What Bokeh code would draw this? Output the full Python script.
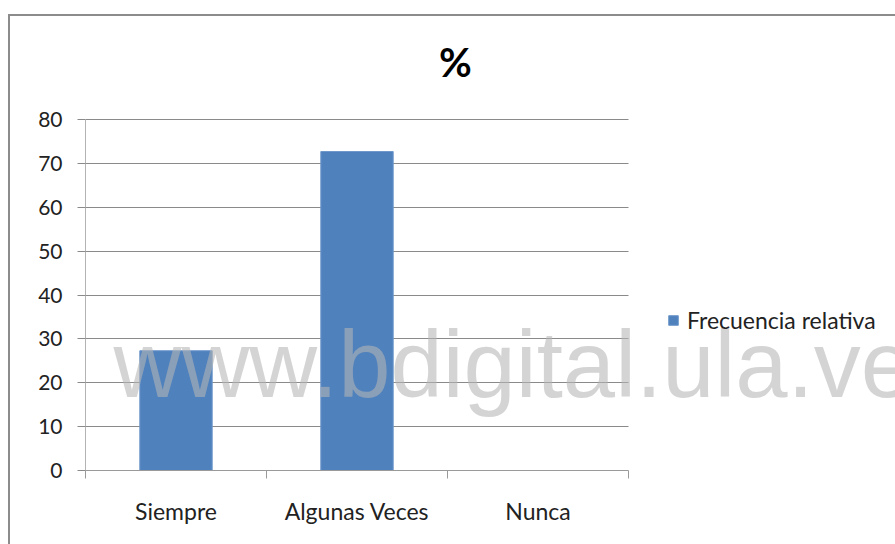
from bokeh.plotting import figure
from bokeh.models import (Range1d, FixedTicker, CustomJSTickFormatter, Legend, LegendItem,
                          Label, ColumnDataSource, InlineStyleSheet)
from bokeh.embed import file_html
from bokeh.resources import INLINE
import numpy as np

# data
categories = ["Siempre", "Algunas Veces", "Nunca"]
frecuencia_relativa = [27.3, 72.7, 0.0]
y_ticks = [0, 10, 20, 30, 40, 50, 60, 70, 80]
title_text = "%"
series_name = "Frecuencia relativa"
watermark = "www.bdigital.ula.ve"

n = len(categories)
y_max = 80
xs = np.arange(n) + 0.5
src = ColumnDataSource(dict(x=xs, top=frecuencia_relativa, cat=categories))

# frame spans the canvas to the right and top; category area occupies part of it
W, H = 895, 544
left_b, bottom_b = 85, 74
cat_px = 543.0          # pixel width of the category area
val_px = 351.0          # pixel height of 0..80
frame_w = W - left_b
frame_h = H - bottom_b
x_end = n * frame_w / cat_px
y_end = y_max * frame_h / val_px

p = figure(width=W, height=H, output_backend="svg", toolbar_location=None,
           x_range=Range1d(0, x_end), y_range=Range1d(0, y_end),
           min_border_left=left_b, min_border_right=0, min_border_top=0, min_border_bottom=bottom_b)
p.outline_line_color = None
p.background_fill_color = "white"
p.border_fill_color = "white"

bars = p.vbar(x="x", top="top", width=0.4, source=src, fill_color="#4f81bd",
              line_color="#6e98cb", line_width=1)

# y axis
p.yaxis.ticker = FixedTicker(ticks=y_ticks)
p.yaxis.bounds = (0, y_max)
p.yaxis.axis_line_color = "#b4b4b4"
p.yaxis.axis_line_width = 1
p.yaxis.major_tick_out = 8
p.yaxis.major_tick_in = 0
p.yaxis.major_tick_line_color = "#8a8a8a"
p.yaxis.minor_tick_line_color = None
p.yaxis.major_label_text_font = "Lato"
p.yaxis.major_label_text_font_size = "21px"
p.yaxis.major_label_text_color = "#222222"
p.yaxis.major_label_standoff = 15

p.ygrid.ticker = FixedTicker(ticks=y_ticks)
p.ygrid.cross_bounds = (0, n)
p.ygrid.grid_line_color = "#8a8a8a"
p.ygrid.grid_line_width = 1
p.xgrid.grid_line_color = None

# x axis: labels at centres, ticks at boundaries
p.xaxis.ticker = FixedTicker(ticks=list(xs), minor_ticks=list(range(n + 1)))
p.xaxis.bounds = (0, n)
p.xaxis.formatter = CustomJSTickFormatter(args=dict(cats=categories),
                                          code="const i = Math.floor(tick); return (i >= 0 && i < cats.length) ? cats[i] : '';")
p.xaxis.axis_line_color = "#9a9a9a"
p.xaxis.major_tick_out = 0
p.xaxis.major_tick_in = 0
p.xaxis.minor_tick_out = 8
p.xaxis.minor_tick_in = 0
p.xaxis.minor_tick_line_color = "#9a9a9a"
p.xaxis.major_label_text_font = "Lato"
p.xaxis.major_label_text_font_size = "23px"
p.xaxis.major_label_text_color = "#222222"
p.xaxis.major_label_standoff = 18

# legend
legend = Legend(items=[LegendItem(label=series_name, renderers=[bars])],
                location=(582, 136), orientation="vertical",
                glyph_width=12, glyph_height=12, label_standoff=8,
                padding=0, margin=0, spacing=0,
                border_line_color=None, background_fill_alpha=0,
                label_text_font="Lato", label_text_font_size="23px", label_text_color="#222222")
p.add_layout(legend, "center")

# title
p.add_layout(Label(x=2.044, y=93.2, text=title_text, text_font="Lato", text_font_style="bold",
                   text_font_size="40px", text_align="center", text_baseline="alphabetic",
                   text_color="#000000"))

# watermark
p.add_layout(Label(x=0.155, y=24.15, text=watermark, text_font="Liberation Sans",
                   text_font_size="94px", text_align="left", text_baseline="alphabetic",
                   text_color="#b5b5b5", text_alpha=0.58))

# outer chart border (left and top edges)
p.stylesheets = [InlineStyleSheet(css="""
:host { position: relative; }
:host::after {
  content: ""; position: absolute; left: 8px; top: 14px; right: 0; bottom: 0;
  border-left: 2px solid #8c8c8c; border-top: 2px solid #8c8c8c;
  pointer-events: none; z-index: 100;
}
""")]

open("out.html", "w").write(file_html(p, INLINE))
